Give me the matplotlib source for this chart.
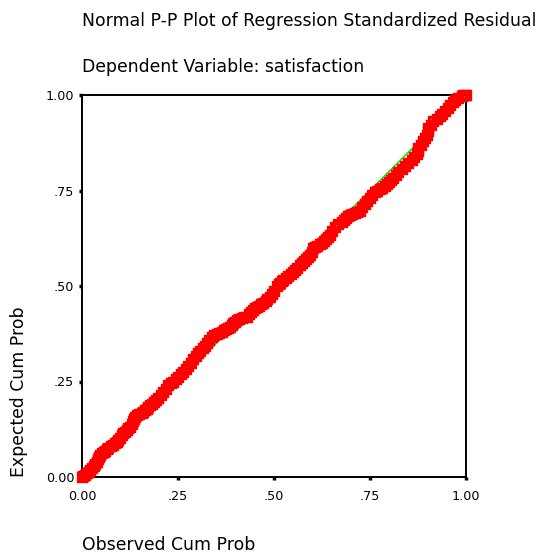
import matplotlib
matplotlib.use('Agg')
import matplotlib.pyplot as plt

# values (observed vs expected cumulative prob)
observed = [0.000, 0.003, 0.008, 0.012, 0.017, 0.021, 0.026, 0.030, 0.034, 0.038,
            0.042, 0.045, 0.048, 0.051, 0.056, 0.060, 0.065, 0.069, 0.075, 0.080,
            0.085, 0.090, 0.095, 0.099, 0.104, 0.108, 0.113, 0.117, 0.121, 0.125,
            0.129, 0.132, 0.135, 0.138, 0.144, 0.149, 0.155, 0.160, 0.164, 0.168,
            0.173, 0.177, 0.182, 0.188, 0.193, 0.199, 0.205, 0.212, 0.218, 0.225,
            0.231, 0.238, 0.244, 0.251, 0.257, 0.264, 0.270, 0.277, 0.283, 0.290,
            0.296, 0.303, 0.308, 0.314, 0.320, 0.325, 0.331, 0.338, 0.344, 0.351,
            0.357, 0.364, 0.370, 0.375, 0.380, 0.385, 0.390, 0.394, 0.399, 0.403,
            0.410, 0.416, 0.422, 0.429, 0.434, 0.440, 0.445, 0.451, 0.456, 0.462,
            0.467, 0.472, 0.478, 0.483, 0.489, 0.494, 0.500, 0.507, 0.512, 0.516,
            0.520, 0.524, 0.530, 0.537, 0.543, 0.550, 0.555, 0.561, 0.567, 0.572,
            0.578, 0.583, 0.589, 0.594, 0.598, 0.602, 0.608, 0.613, 0.619, 0.624,
            0.630, 0.635, 0.641, 0.646, 0.652, 0.659, 0.667, 0.676, 0.681, 0.687,
            0.692, 0.698, 0.704, 0.711, 0.717, 0.724, 0.730, 0.737, 0.743, 0.750,
            0.756, 0.763, 0.769, 0.776, 0.782, 0.789, 0.794, 0.800, 0.805, 0.811,
            0.817, 0.824, 0.833, 0.841, 0.850, 0.859, 0.865, 0.872, 0.874, 0.876,
            0.883, 0.889, 0.894, 0.898, 0.900, 0.902, 0.908, 0.915, 0.924, 0.932,
            0.938, 0.945, 0.952, 0.958, 0.965, 0.971, 0.980, 0.989, 0.993, 0.997,
            1.000]
expected = [0.000, 0.003, 0.006, 0.010, 0.014, 0.018, 0.024, 0.030, 0.035, 0.040,
            0.047, 0.052, 0.057, 0.062, 0.066, 0.069, 0.072, 0.075, 0.080, 0.084,
            0.088, 0.092, 0.098, 0.103, 0.109, 0.114, 0.119, 0.123, 0.128, 0.132,
            0.139, 0.146, 0.152, 0.158, 0.162, 0.165, 0.168, 0.171, 0.175, 0.179,
            0.184, 0.188, 0.192, 0.197, 0.201, 0.206, 0.214, 0.222, 0.231, 0.240,
            0.245, 0.250, 0.256, 0.262, 0.269, 0.276, 0.283, 0.290, 0.299, 0.308,
            0.316, 0.324, 0.330, 0.337, 0.344, 0.350, 0.359, 0.367, 0.371, 0.374,
            0.377, 0.380, 0.384, 0.387, 0.390, 0.393, 0.398, 0.402, 0.407, 0.411,
            0.413, 0.415, 0.418, 0.420, 0.426, 0.431, 0.437, 0.442, 0.445, 0.448,
            0.452, 0.455, 0.461, 0.466, 0.472, 0.478, 0.488, 0.500, 0.504, 0.508,
            0.512, 0.516, 0.521, 0.527, 0.532, 0.537, 0.543, 0.548, 0.554, 0.559,
            0.565, 0.570, 0.576, 0.581, 0.590, 0.599, 0.602, 0.605, 0.609, 0.612,
            0.618, 0.623, 0.629, 0.634, 0.644, 0.655, 0.661, 0.668, 0.672, 0.677,
            0.682, 0.686, 0.689, 0.692, 0.695, 0.697, 0.706, 0.714, 0.723, 0.731,
            0.739, 0.746, 0.749, 0.753, 0.757, 0.762, 0.767, 0.772, 0.777, 0.782,
            0.790, 0.798, 0.806, 0.814, 0.822, 0.830, 0.837, 0.845, 0.853, 0.861,
            0.870, 0.879, 0.887, 0.896, 0.905, 0.914, 0.922, 0.931, 0.938, 0.944,
            0.950, 0.957, 0.966, 0.975, 0.982, 0.988, 0.993, 0.997, 0.999, 1.000,
            1.000]

tick_vals = [0.0, 0.25, 0.5, 0.75, 1.0]
tick_labels = ['0.00', '.25', '.50', '.75', '1.00']

fig = plt.figure(figsize=(5.38, 5.54), dpi=100)
ax = fig.add_axes([82 / 538, 77 / 554, 384 / 538, 382 / 554])

# reference diagonal
ax.plot([0, 1], [0, 1], color='#00e600', lw=1.1, zorder=2)
ax.plot(observed, expected, linestyle='none', marker='s', markersize=5.6,
        markerfacecolor='none', markeredgecolor='#ff0000', markeredgewidth=2.4,
        clip_on=False, zorder=3)

ax.set_xlim(0, 1)
ax.set_ylim(0, 1)
ax.set_xticks(tick_vals)
ax.set_xticklabels(tick_labels)
ax.set_yticks(tick_vals)
ax.set_yticklabels(tick_labels)
ax.tick_params(direction='out', length=2.5, width=2.5, labelsize=9.2, colors='black')
ax.tick_params(axis='x', pad=7)
ax.tick_params(axis='y', pad=3)
for s in ax.spines.values():
    s.set_linewidth(1.4)

fs = 12.4
fig.text(82 / 538, 1 - 21 / 554, 'Normal P-P Plot of Regression Standardized Residual',
         fontsize=fs, ha='left', va='center')
fig.text(82 / 538, 1 - 67 / 554, 'Dependent Variable: satisfaction',
         fontsize=fs, ha='left', va='center')
fig.text(82 / 538, 1 - 545 / 554, 'Observed Cum Prob',
         fontsize=fs, ha='left', va='center')
fig.text(19 / 538, 77 / 554, 'Expected Cum Prob', rotation=90,
         fontsize=fs, ha='center', va='bottom')

fig.savefig('out.png', dpi=100)
